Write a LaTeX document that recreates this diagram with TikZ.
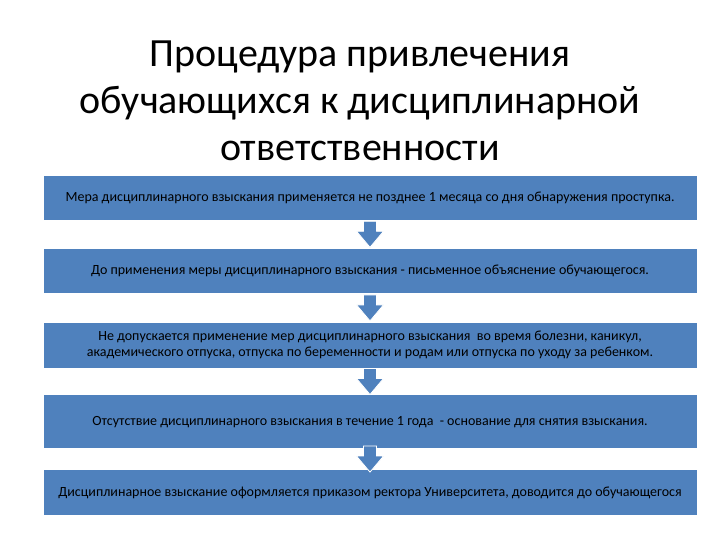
\documentclass[tikz,border=0pt]{standalone}
\usepackage{fontspec}
\setmainfont{Carlito}
\usepackage{xcolor}
\usepackage{tikz}
\usetikzlibrary{positioning, calc}
\definecolor{boxblue}{HTML}{4F81BD}

\begin{document}
\begin{tikzpicture}[
      x=1pt, y=1pt,
      heading/.style={align=center, inner sep=0pt, font=\fontsize{40}{47}\selectfont},
      stepbox/.style={rectangle, draw=white, line width=0.6pt, fill=boxblue, minimum width=654pt,
        minimum height=45pt, inner sep=2pt, align=center, font=\fontsize{14}{16}\selectfont},
      pics/downarrow/.style={code={
        \filldraw[fill=boxblue, draw=white, line width=0.8pt]
          (-6.5,13) -- (6.5,13) -- (6.5,3) -- (13.5,3) -- (0,-13) -- (-13.5,3) -- (-6.5,3) -- cycle;
      }}
    ]
      \useasboundingbox (0,0) rectangle (720,540);
      \fill[white] (0,0) rectangle (720,540);

      \node[heading] (title) at (360,439) {Процедура привлечения\\обучающихся к дисциплинарной\\ответственности};

      \node[stepbox] (m1) at (370,342.5) {Мера дисциплинарного взыскания применяется не позднее 1 месяца со дня обнаружения проступка.};
      \node[stepbox, below=28pt of m1] (m2) {До применения меры дисциплинарного взыскания - письменное объяснение обучающегося.};
      \node[stepbox, below=28pt of m2, minimum height=46pt] (m3) {Не допускается применение мер дисциплинарного взыскания \ во время болезни, каникул,\\академического отпуска, отпуска по беременности и родам или отпуска по уходу за ребенком.};
      \node[stepbox, below=26pt of m3, minimum height=54pt] (m4) {Отсутствие дисциплинарного взыскания в течение 1 года \ - основание для снятия взыскания.};
      \node[stepbox, below=20pt of m4, minimum height=46pt] (m5) {Дисциплинарное взыскание оформляется приказом ректора Университета, доводится до обучающегося};

      % arrows between the steps
      \foreach \a/\b in {m1/m2, m2/m3, m3/m4, m4/m5}
        \pic at ($(\a.south)!.5!(\b.north)$) {downarrow};
    \end{tikzpicture}
\end{document}
